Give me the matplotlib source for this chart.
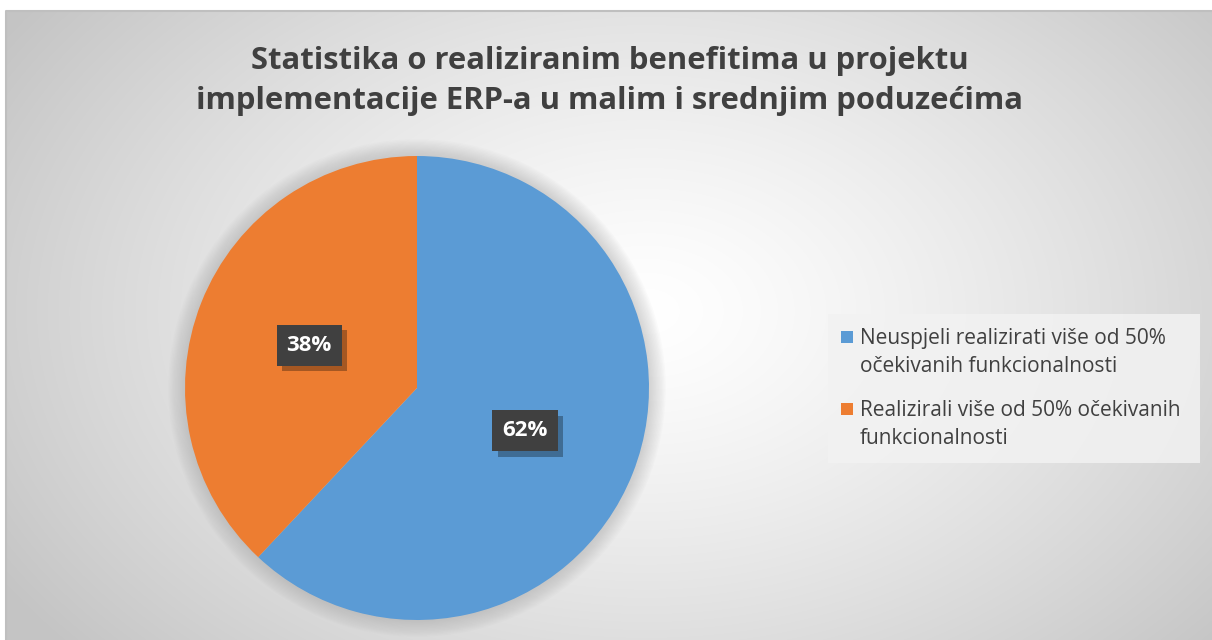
import numpy as np
import matplotlib.pyplot as plt
import matplotlib.patheffects as pe
from matplotlib.patches import Circle, Rectangle

# data
labels = ["Neuspjeli realizirati više od 50%\nočekivanih funkcionalnosti",
          "Realizirali više od 50% očekivanih\nfunkcionalnosti"]
values = [62, 38]
colors = ["#5B9BD5", "#ED7D31"]
title = "Statistika o realiziranim benefitima u projektu\nimplementacije ERP-a u malim i srednjim poduzećima"

W, H = 1212, 640
fig = plt.figure(figsize=(W / 100, H / 100), dpi=100)
fig.patch.set_facecolor("white")

# background with radial gradient
bg = fig.add_axes([6 / W, 0, (W - 6) / W, (H - 11) / H])
yy, xx = np.mgrid[0:629, 0:1206]
d = np.sqrt(((xx - 640) / 760.0) ** 2 + ((yy - 300) / 520.0) ** 2)
g = 1.0 - 0.23 * np.clip(d, 0, 1) ** 1.3
bg.imshow(np.dstack([g, g, g]), aspect="auto", interpolation="bilinear")
bg.set_axis_off()
fig.add_artist(plt.Line2D([6 / W, 6 / W, 1], [0, 1 - 11 / H, 1 - 11 / H],
                          transform=fig.transFigure, color="#bfbfbf", lw=1.5))

# pie
cx, cy, r = 417, 388, 232
ax = fig.add_axes([(cx - r) / W, 1 - (cy + r) / H, 2 * r / W, 2 * r / H])
for k in range(12):
    ax.add_patch(Circle((0, 0), 1.0 + 0.006 * (12 - k), color="#9a9a9a",
                        alpha=0.035, lw=0, zorder=0, clip_on=False))
wedges, _, autotexts = ax.pie(values, colors=colors, startangle=90, counterclock=False,
                              radius=1.0, wedgeprops=dict(linewidth=0),
                              autopct="%1.0f%%", pctdistance=0.5)
ax.set_xlim(-1, 1)
ax.set_ylim(-1, 1)
ax.set_aspect("equal")
ax.set_axis_off()

# data labels
for t in autotexts:
    t.set_fontsize(16)
    t.set_fontweight("bold")
    t.set_family("Open Sans")
    t.set_color("white")
    t.set_bbox(dict(boxstyle="square,pad=0.45", fc="#404040", ec="none"))
    t.get_bbox_patch().set_path_effects([
        pe.SimplePatchShadow(offset=(4, -4), shadow_rgbFace="black", alpha=0.3),
        pe.Normal()])

# title
fig.text(610 / W, 1 - 81 / H, title, ha="center", va="center", fontsize=22.3,
         fontweight="bold", family="Open Sans", color="#404040", linespacing=1.45)

# legend (drawn by hand so the colour square sits on the first line)
fig.add_artist(Rectangle((828 / W, 1 - 463 / H), 372 / W, 149 / H,
                         transform=fig.transFigure, fc="#f2f2f2", ec="none",
                         alpha=0.85))
entry_top = [331, 403]
for lab, col, top in zip(labels, colors, entry_top):
    fig.add_artist(Rectangle((841 / W, 1 - (top + 12) / H), 12 / W, 12 / H,
                             transform=fig.transFigure, fc=col, ec="none"))
    fig.text(860 / W, 1 - (top - 3) / H, lab, ha="left", va="top",
             fontsize=15, family="Open Sans", color="#404040", linespacing=1.45)

fig.savefig("out.png", dpi=100)
